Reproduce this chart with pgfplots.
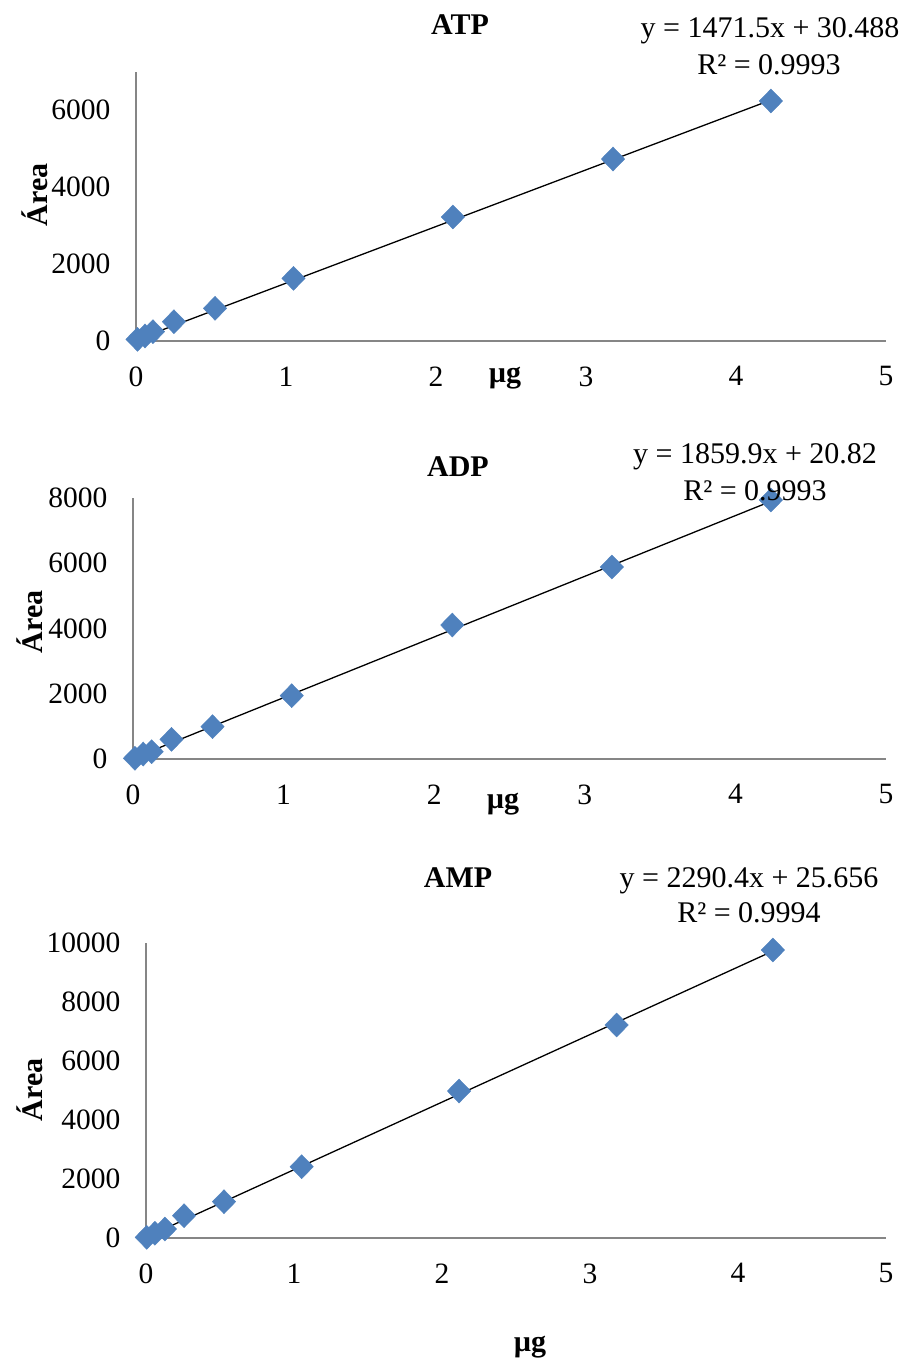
\documentclass[border=0pt]{standalone}
\usepackage{fontspec}
\setmainfont{Liberation Serif}
\usepackage{pgfplots}
\pgfplotsset{compat=1.18}
\definecolor{mk}{RGB}{79,129,189}
\definecolor{axgray}{RGB}{134,134,134}
\pgfplotsset{
  panel/.style={scale only axis, anchor=south west, xmin=0, xmax=5, ymin=0,
    axis lines*=left, axis line style={draw=axgray, line width=1.5pt},
    major tick length=0pt, xtick={0,1,2,3,4,5}, scaled ticks=false,
    tick label style={font=\fontsize{29.5}{34}\selectfont},
    /pgf/number format/assume math mode=true, /pgf/number format/1000 sep={},
    xticklabel style={yshift=-22pt}, yticklabel style={xshift=-22pt},
    clip=false},
  pts/.style={only marks, mark=diamond*, mark size=12pt,
    mark options={fill=mk, draw=mk, xscale=1.3}},
  fitl/.style={black, line width=1.3pt, no marks}
}
\begin{document}
\begin{tikzpicture}
\useasboundingbox (0pt,0pt) rectangle (903pt,-1364pt);
% ATP
\begin{axis}[panel, at={(136pt,-341pt)}, width=750pt, height=269.5pt, ymax=7000,
  ytick={0,2000,4000,6000}]
\addplot[pts] coordinates {(0.01,44) (0.06,130) (0.113,242) (0.253,501) (0.527,849) (1.05,1628) (2.113,3221) (3.18,4727) (4.233,6234)};
\addplot[fitl] coordinates {(0.01,45.2) (4.233,6259.4)};
\end{axis}
% ADP
\begin{axis}[panel, at={(133pt,-759pt)}, width=753pt, height=261pt, ymax=8000,
  ytick={0,2000,4000,6000,8000}]
\addplot[pts] coordinates {(0.013,22) (0.068,153) (0.124,224) (0.256,603) (0.528,990) (1.054,1940) (2.12,4107) (3.18,5885) (4.236,7939)};
\addplot[fitl] coordinates {(0.013,45.0) (4.236,7899.2)};
\end{axis}
% AMP
\begin{axis}[panel, at={(146pt,-1238pt)}, width=740pt, height=295pt, ymax=10000,
  ytick={0,2000,4000,6000,8000,10000}]
\addplot[pts] coordinates {(0.005,24) (0.06,159) (0.128,305) (0.257,756) (0.527,1230) (1.052,2417) (2.115,4983) (3.18,7220) (4.236,9763)};
\addplot[fitl] coordinates {(0.005,37.1) (4.236,9727.8)};
\end{axis}
\tikzset{t/.style={font=\fontsize{30}{36}\selectfont, inner sep=0pt}, tb/.style={font=\fontsize{30}{36}\bfseries\selectfont, inner sep=0pt}}
% titles
\node[tb] at (460pt,-25pt) {ATP};
\node[tb] at (458pt,-467pt) {ADP};
\node[tb] at (458pt,-878pt) {AMP};
% equations
\node[t] at (770pt,-31pt) {y = 1471.5x + 30.488};
\node[t] at (769pt,-65pt) {R² = 0.9993};
\node[t] at (755pt,-457pt) {y = 1859.9x + 20.82};
\node[t] at (755pt,-491pt) {R² = 0.9993};
\node[t] at (749pt,-881pt) {y = 2290.4x + 25.656};
\node[t] at (749pt,-913pt) {R² = 0.9994};
% axis labels
\node[tb, rotate=90] at (35pt,-195pt) {Área};
\node[tb, rotate=90] at (30pt,-622pt) {Área};
\node[tb, rotate=90] at (30pt,-1090pt) {Área};
\node[tb] at (505pt,-378pt) {µg};
\node[tb] at (503pt,-804pt) {µg};
\node[tb] at (530pt,-1347pt) {µg};
\end{tikzpicture}
\end{document}
